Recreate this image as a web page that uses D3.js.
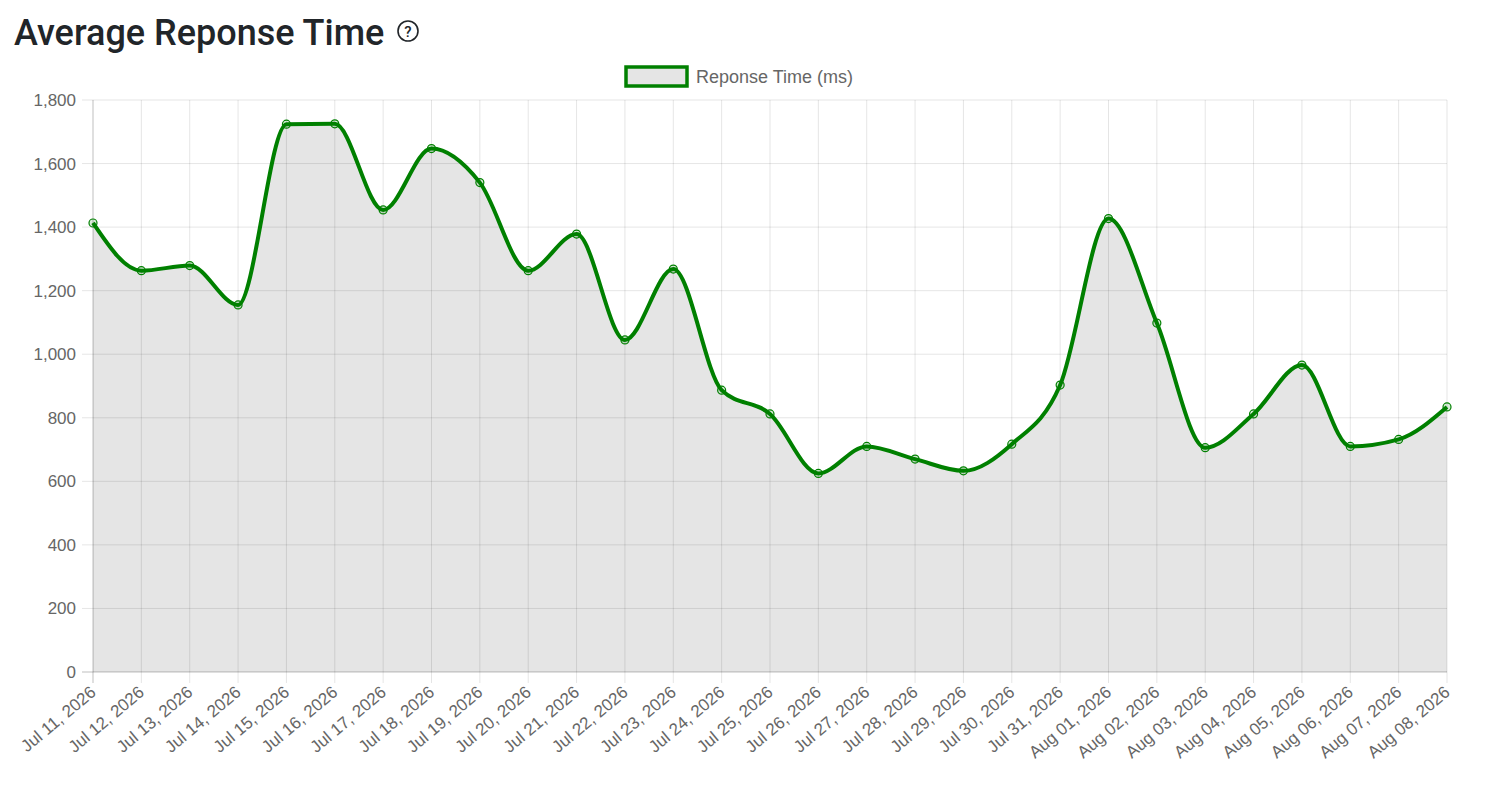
<!doctype html>
<html lang="en">
<head>
  <meta charset="utf-8">
  <script src="https://d3js.org/d3.v7.min.js"></script>
  <style>
    body { margin: 0; background: #fff; }
    svg { display: block; }
  </style>
</head>
<body>
  <script>
    // chart data
    var dates = ["Jul 11, 2026", "Jul 12, 2026", "Jul 13, 2026", "Jul 14, 2026", "Jul 15, 2026",
                 "Jul 16, 2026", "Jul 17, 2026", "Jul 18, 2026", "Jul 19, 2026", "Jul 20, 2026",
                 "Jul 21, 2026", "Jul 22, 2026", "Jul 23, 2026", "Jul 24, 2026", "Jul 25, 2026",
                 "Jul 26, 2026", "Jul 27, 2026", "Jul 28, 2026", "Jul 29, 2026", "Jul 30, 2026",
                 "Jul 31, 2026", "Aug 01, 2026", "Aug 02, 2026", "Aug 03, 2026", "Aug 04, 2026",
                 "Aug 05, 2026", "Aug 06, 2026", "Aug 07, 2026", "Aug 08, 2026"];
    var responseMs = [1413, 1263, 1279, 1155, 1724, 1725, 1454, 1647, 1540, 1263,
                      1378, 1045, 1268, 887, 812, 625, 710, 670, 633, 717,
                      903, 1427, 1098, 706, 812, 966, 710, 732, 834];
    var yTicks = [0, 200, 400, 600, 800, 1000, 1200, 1400, 1600, 1800];
    var seriesName = "Reponse Time (ms)";
    var title = "Average Reponse Time";

    var width = 1486,
        height = 800;
    var plotLeft = 93, plotRight = 1447, plotTop = 100, plotBottom = 672;

    var svg = d3.select("body").append("svg")
        .attr("width", width)
        .attr("height", height);

    var x = d3.scalePoint().domain(dates).range([plotLeft, plotRight]);
    var y = d3.scaleLinear().domain([0, 1800]).range([plotBottom, plotTop]);

    var chartFont = "'Liberation Sans', Arial, Helvetica, sans-serif";

    // title + help icon
    svg.append("text")
        .attr("x", 14).attr("y", 45)
        .style("font-family", "Roboto, 'Noto Sans', sans-serif")
        .style("font-weight", 500)
        .style("font-size", "36px")
        .style("fill", "#212529")
        .text(title);
    var help = svg.append("g").attr("transform", "translate(408,31)");
    help.append("circle").attr("r", 10)
        .style("fill", "none").style("stroke", "#212529").style("stroke-width", 1.6);
    help.append("text").attr("y", 5.5).attr("text-anchor", "middle")
        .style("font-family", "Roboto, sans-serif").style("font-weight", 500)
        .style("font-size", "15px").style("fill", "#212529").text("?");

    // legend
    var legend = svg.append("g").attr("transform", "translate(626,67)");
    legend.append("rect").attr("width", 61).attr("height", 19)
        .style("fill", "#e5e5e5").style("stroke", "green").style("stroke-width", 3.5);
    legend.append("text").attr("x", 70).attr("y", 15.5)
        .style("font-family", chartFont).style("font-size", "18px").style("fill", "#666")
        .text(seriesName);

    // grid
    var grid = svg.append("g");
    grid.selectAll(".hg").data(yTicks).enter().append("line")
        .attr("x1", plotLeft - 11).attr("x2", plotRight)
        .attr("y1", function(d) { return y(d); }).attr("y2", function(d) { return y(d); })
        .style("stroke", function(d) { return d === 0 ? "rgba(0,0,0,0.25)" : "rgba(0,0,0,0.1)"; })
        .style("stroke-width", 1);
    grid.selectAll(".vg").data(dates).enter().append("line")
        .attr("x1", function(d) { return x(d); }).attr("x2", function(d) { return x(d); })
        .attr("y1", plotTop).attr("y2", plotBottom + 11)
        .style("stroke", function(d, i) { return i === 0 ? "rgba(0,0,0,0.25)" : "rgba(0,0,0,0.1)"; })
        .style("stroke-width", 1);

    // y labels
    svg.selectAll(".yl").data(yTicks).enter().append("text")
        .attr("x", plotLeft - 17).attr("y", function(d) { return y(d) + 6; })
        .attr("text-anchor", "end")
        .style("font-family", chartFont).style("font-size", "17px").style("fill", "#666")
        .text(d3.format(","));

    // x labels, rotated
    svg.selectAll(".xl").data(dates).enter().append("text")
        .attr("transform", function(d) { return "translate(" + (x(d) + 4) + "," + (plotBottom + 22) + ") rotate(-40)"; })
        .attr("text-anchor", "end")
        .style("font-family", chartFont).style("font-size", "17px").style("fill", "#666")
        .text(function(d) { return d; });

    // area + line (monotone interpolation)
    var area = d3.area()
        .x(function(d, i) { return x(dates[i]); })
        .y0(plotBottom)
        .y1(function(d) { return y(d); })
        .curve(d3.curveMonotoneX);
    var line = d3.line()
        .x(function(d, i) { return x(dates[i]); })
        .y(function(d) { return y(d); })
        .curve(d3.curveMonotoneX);

    svg.append("path").datum(responseMs).attr("d", area)
        .style("fill", "rgba(0,0,0,0.1)").style("stroke", "none");

    svg.append("path").datum(responseMs).attr("d", line)
        .style("fill", "none").style("stroke", "green").style("stroke-width", 4)
        .style("stroke-linejoin", "round");

    svg.selectAll(".pt").data(responseMs).enter().append("circle")
        .attr("cx", function(d, i) { return x(dates[i]); })
        .attr("cy", function(d) { return y(d); })
        .attr("r", 4)
        .style("fill", "rgba(0,128,0,0.15)")
        .style("stroke", "green")
        .style("stroke-width", 1.2);
  </script>
</body>
</html>
